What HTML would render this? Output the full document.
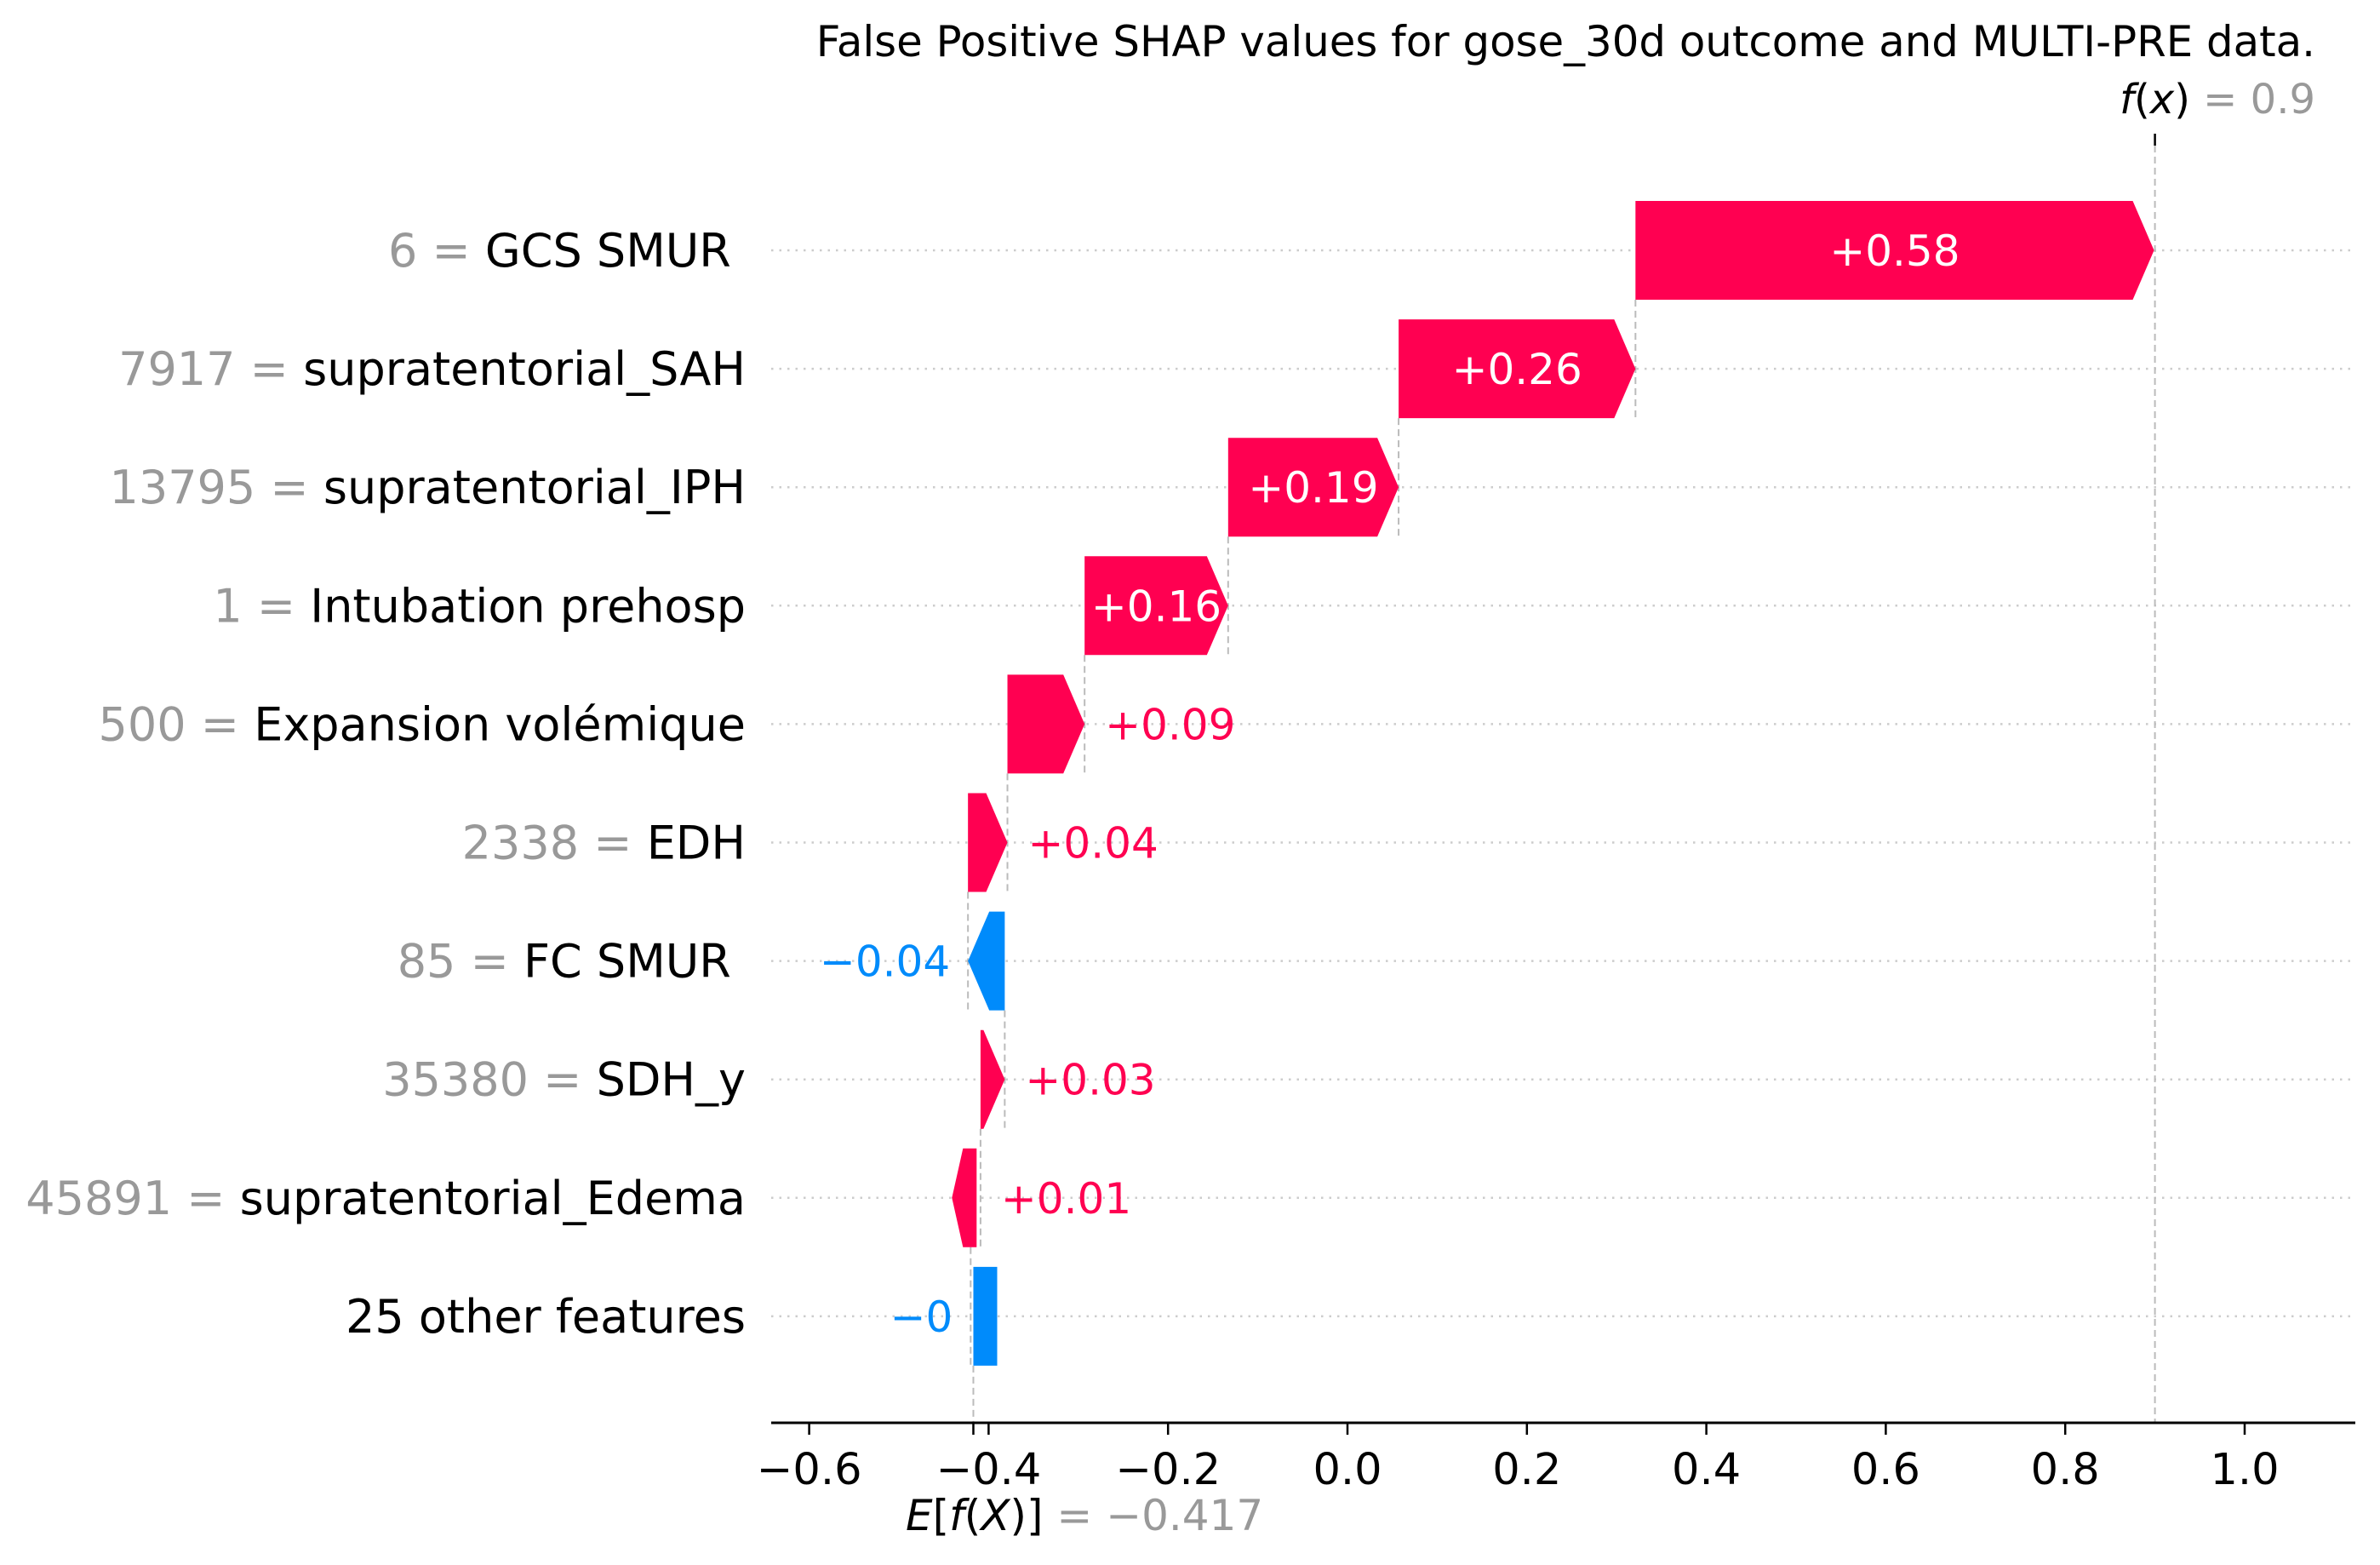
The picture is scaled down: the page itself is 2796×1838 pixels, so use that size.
<!DOCTYPE html>
<html><head><meta charset="utf-8"><style>
html,body{margin:0;padding:0;background:#fff;}
svg{display:block;font-family:"DejaVu Sans","Liberation Sans",sans-serif;}
text{white-space:pre;}
</style></head><body>
<svg id="chart" width="2796" height="1838" viewBox="0 0 2796 1838" xmlns="http://www.w3.org/2000/svg">
<text x="2720" y="66" font-size="49.8" text-anchor="end" fill="#000">False Positive SHAP values for gose_30d outcome and MULTI-PRE data.</text>
<g id="grid"></g><g id="connectors"></g><g id="bars"></g><g id="labels"></g><g id="axis"></g>
</svg>
<script>
const features = ["GCS SMUR ","supratentorial_SAH","supratentorial_IPH","Intubation prehosp","Expansion volémique","EDH","FC SMUR ","SDH_y","supratentorial_Edema","25 other features"];
const featureValues = ["6","7917","13795","1","500","2338","85","35380","45891",""];
const shapValues = [0.578,0.264,0.19,0.16,0.086,0.044,-0.041,0.027,0.011,-0.003];
const valueLabels = ["+0.58","+0.26","+0.19","+0.16","+0.09","+0.04","\u22120.04","+0.03","+0.01","\u22120"];
const baseValue = -0.417;
const fxValue = 0.9;
const ticks = [-0.6,-0.4,-0.2,0.0,0.2,0.4,0.6,0.8,1.0];
const tickLabels = ["\u22120.6","\u22120.4","\u22120.2","0.0","0.2","0.4","0.6","0.8","1.0"];

const NS="http://www.w3.org/2000/svg";
const X0=1583, XS=1054, ROW0=294, ROWS=139.1, BH=116, HL=25, AXY=1671;
const RED="#ff0051", BLUE="#008bfb";
function xs(v){return X0+XS*v;}
function ys(i){return ROW0+ROWS*i;}
function mk(tag,attrs,parent){const e=document.createElementNS(NS,tag);for(const k in attrs)e.setAttribute(k,attrs[k]);parent.appendChild(e);return e;}
const grid=document.getElementById('grid'),conn=document.getElementById('connectors'),bars=document.getElementById('bars'),labs=document.getElementById('labels'),axis=document.getElementById('axis');
const n=features.length;
const starts=[],ends=[];
let acc=baseValue;
for(let i=n-1;i>=0;i--){starts[i]=acc;acc+=shapValues[i];ends[i]=acc;}

for(let i=0;i<n;i++){
  const cy=ys(i);
  const g=mk('line',{x1:906,x2:2767,y1:cy,y2:cy,stroke:"#cccccc","stroke-width":2.5,"stroke-dasharray":"2.5,7"},grid);
  
  
  const t=mk('text',{x:876,y:cy+19,"font-size":54,"text-anchor":"end"},labs);
  
  
  if(featureValues[i]!==""){const s1=mk('tspan',{fill:"#999999"},t);s1.textContent=featureValues[i]+" = ";}
  const s2=mk('tspan',{fill:"#000"},t);s2.textContent=features[i];
  const a=xs(starts[i]),b=xs(ends[i]),pos=shapValues[i]>=0,col=pos?RED:BLUE;
  const top=cy-BH/2,bot=cy+BH/2,d=Math.abs(b-a);
  let pts;
  if(d<5){pts=[[a,top],[a+28,top],[a+28,bot],[a,bot]];}
  else if(d<HL){pts=[[a-22,cy],[a-9,top],[a+7,top],[a+7,bot],[a-9,bot]];}
  else if(pos){pts=[[a,top],[b-HL,top],[b,cy],[b-HL,bot],[a,bot]];}
  else{pts=[[a,top],[b+HL,top],[b,cy],[b+HL,bot],[a,bot]];}
  const p=mk('polygon',{points:pts.map(q=>q.join(',')).join(' '),fill:col},bars);
  
  
  let vl;
  if(pos && d>150){vl=mk('text',{x:(a+b)/2,y:cy+18,"font-size":50,"text-anchor":"middle",fill:"#fff"},labs);}
  else if(pos){vl=mk('text',{x:Math.max(a,b)+24,y:cy+18,"font-size":50,"text-anchor":"start",fill:RED},labs);}
  else{vl=mk('text',{x:Math.min(a,b)-21,y:cy+18,"font-size":50,"text-anchor":"end",fill:BLUE},labs);}
  
  
  vl.textContent=valueLabels[i];
  if(i<n-1){
    const c=mk('line',{x1:a,x2:a,y1:bot,y2:ys(i+1)+BH/2,stroke:"#bbbbbb","stroke-width":2,"stroke-dasharray":"8,5"},conn);
    
    
  }
}
const fl=mk('line',{x1:xs(fxValue),x2:xs(fxValue),y1:171,y2:AXY,stroke:"#bbbbbb","stroke-width":2,"stroke-dasharray":"8,5"},conn);


const el=mk('line',{x1:xs(baseValue),x2:xs(baseValue),y1:ys(n-1)+BH/2,y2:AXY,stroke:"#bbbbbb","stroke-width":2,"stroke-dasharray":"8,5"},conn);


const tt=mk('line',{x1:xs(fxValue),x2:xs(fxValue),y1:157,y2:171,stroke:"#000","stroke-width":2.5},axis);


const ax=mk('line',{x1:906,x2:2767,y1:AXY,y2:AXY,stroke:"#000","stroke-width":3},axis);


ticks.forEach((v,k)=>{
  const tk=mk('line',{x1:xs(v),x2:xs(v),y1:AXY,y2:AXY+14,stroke:"#000","stroke-width":2.5},axis);
  
  
  const tl=mk('text',{x:xs(v),y:1743,"font-size":51,"text-anchor":"middle",fill:"#000"},axis);
  
  
  tl.textContent=tickLabels[k];
});
const et=mk('line',{x1:xs(baseValue),x2:xs(baseValue),y1:AXY,y2:AXY+14,stroke:"#000","stroke-width":2.5},axis);


const fx=mk('text',{x:2720,y:133,"font-size":48,"text-anchor":"end"},axis);


const f1=mk('tspan',{fill:"#000","font-style":"italic"},fx);f1.textContent="f";
const f2=mk('tspan',{fill:"#000"},fx);f2.textContent="(";
const f3=mk('tspan',{fill:"#000","font-style":"italic"},fx);f3.textContent="x";
const f4=mk('tspan',{fill:"#000"},fx);f4.textContent=")";
const f5=mk('tspan',{fill:"#999999"},fx);f5.textContent=" = "+fxValue;
const ex=mk('text',{x:1064,y:1797,"font-size":50,"text-anchor":"start"},axis);


const e1=mk('tspan',{fill:"#000","font-style":"italic"},ex);e1.textContent="E";
const e2=mk('tspan',{fill:"#000"},ex);e2.textContent="[";
const e3=mk('tspan',{fill:"#000","font-style":"italic"},ex);e3.textContent="f";
const e4=mk('tspan',{fill:"#000"},ex);e4.textContent="(";
const e5=mk('tspan',{fill:"#000","font-style":"italic"},ex);e5.textContent="X";
const e6=mk('tspan',{fill:"#000"},ex);e6.textContent=")]";
const e7=mk('tspan',{fill:"#999999"},ex);e7.textContent=" = \u2212"+Math.abs(baseValue);
</script>
</body></html>
